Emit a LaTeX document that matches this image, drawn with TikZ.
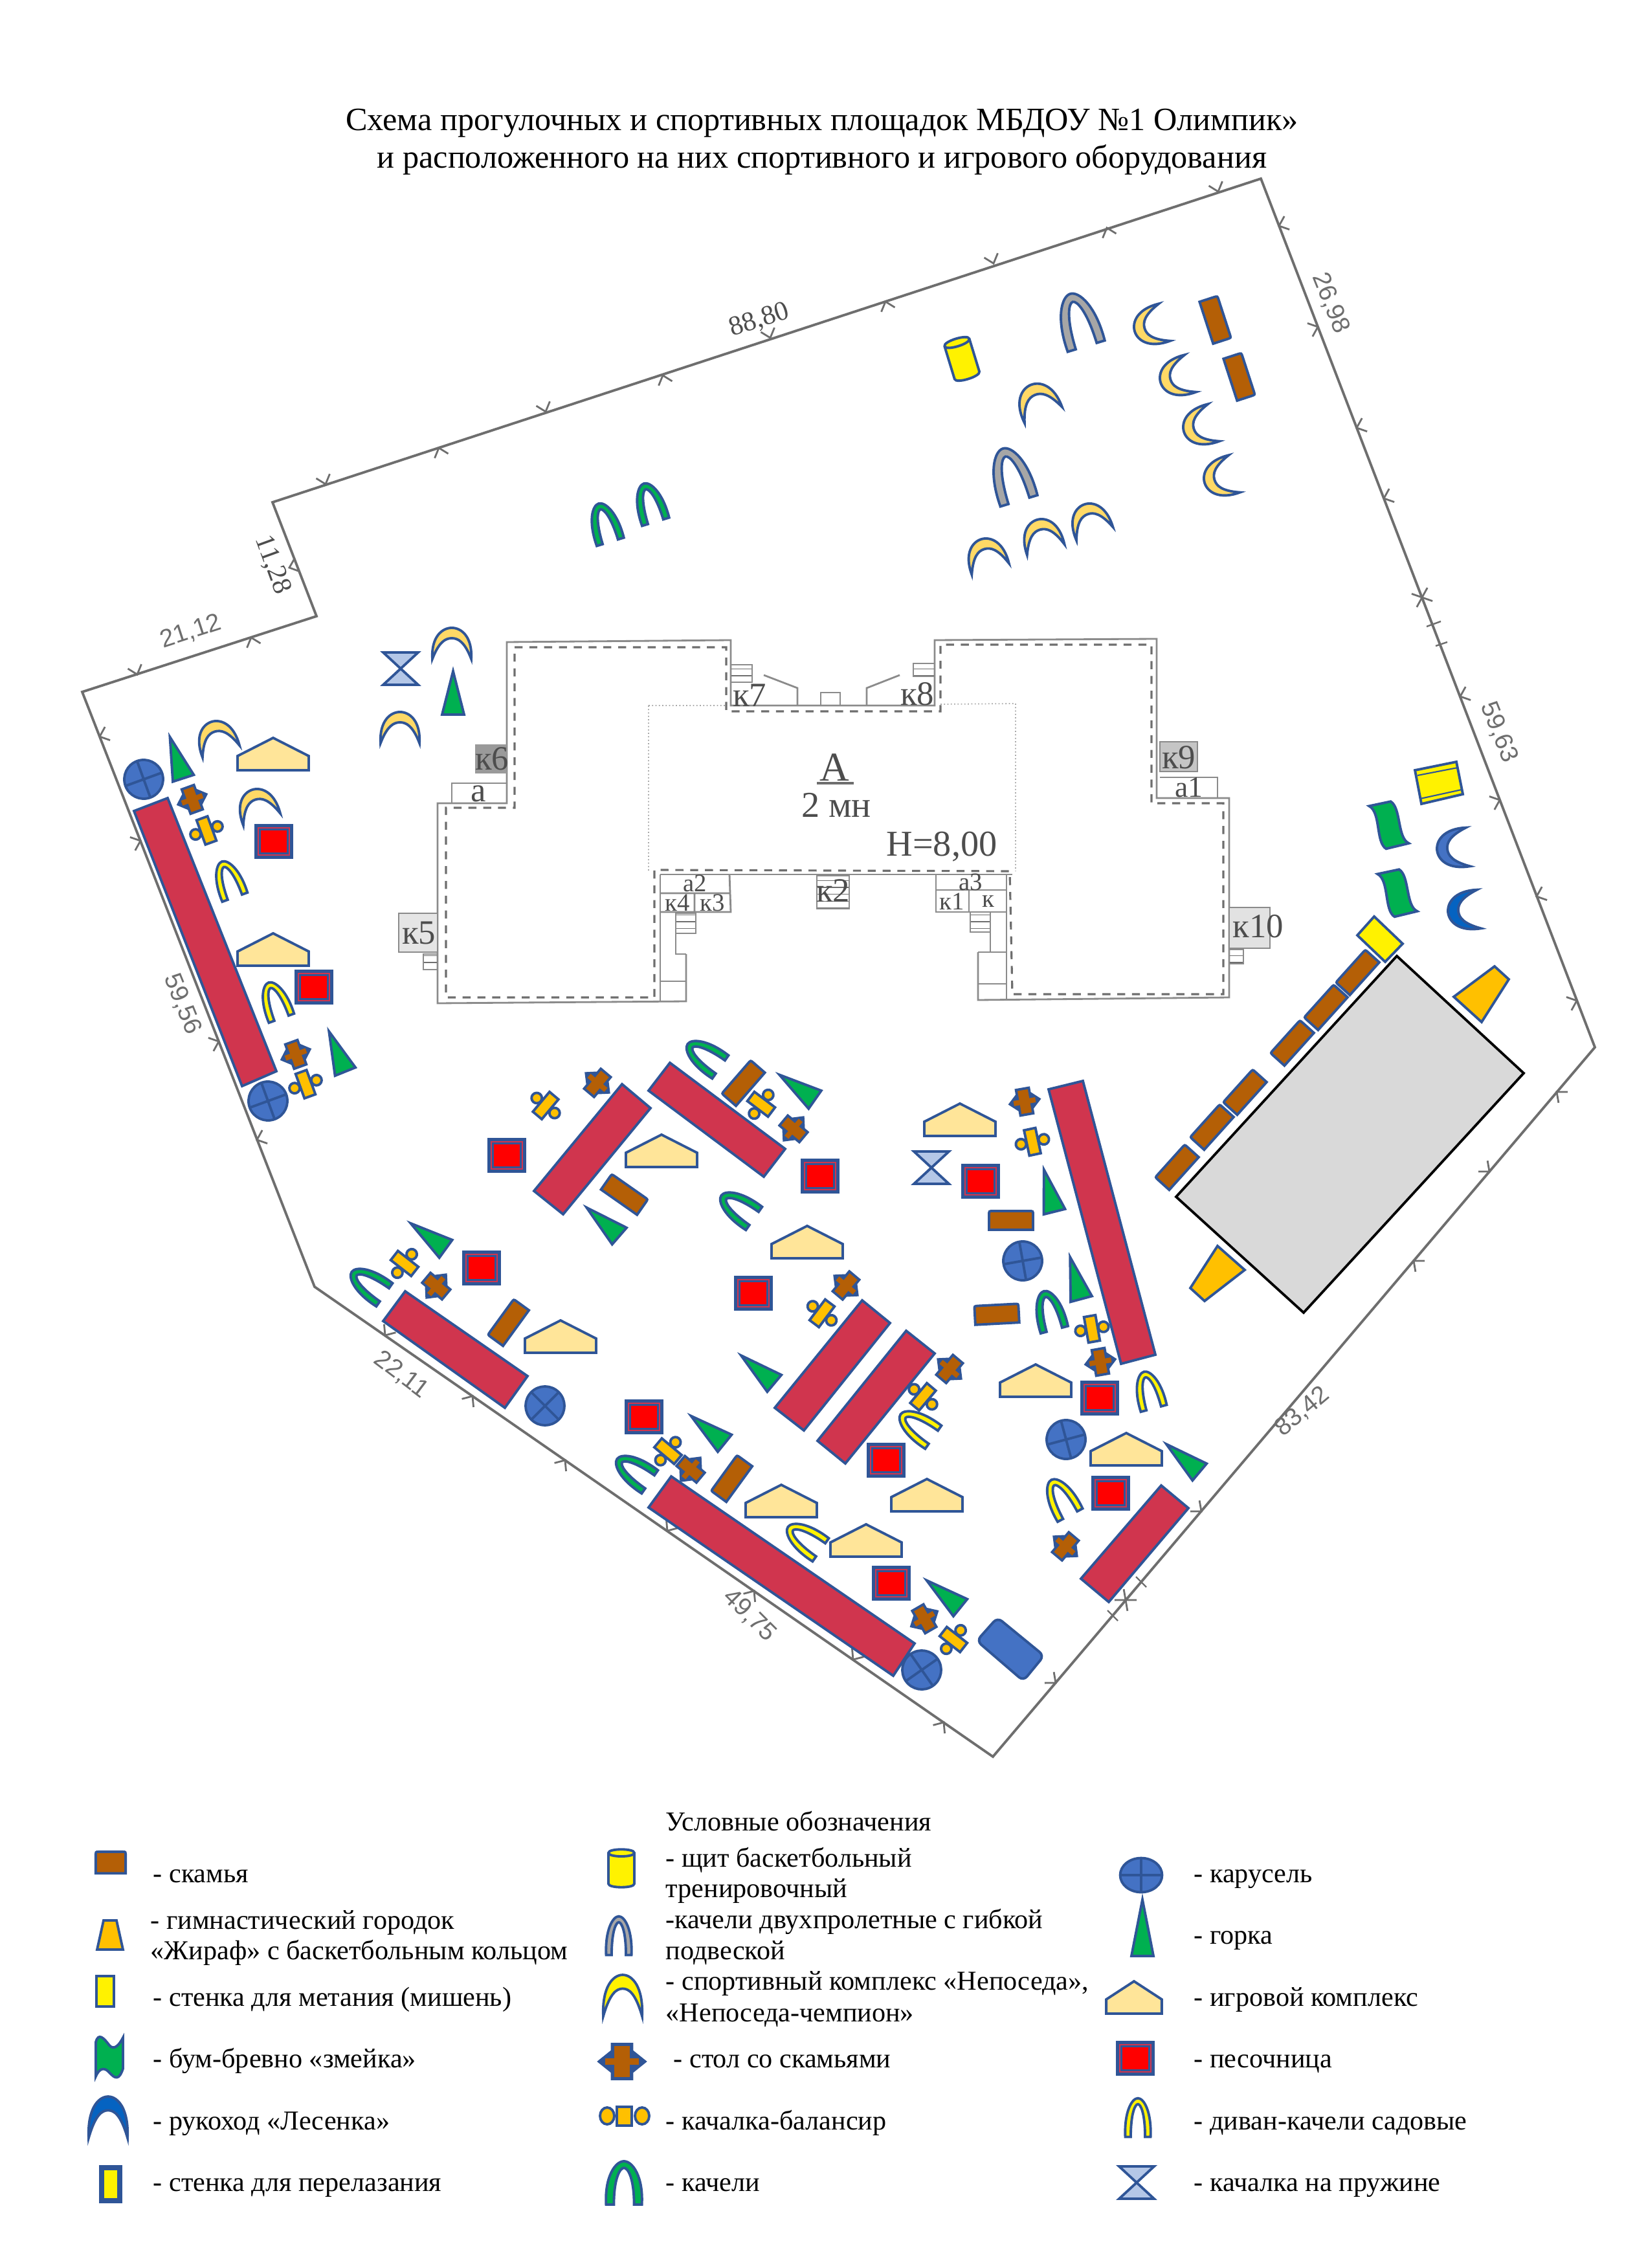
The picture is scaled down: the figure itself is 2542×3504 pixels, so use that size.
\documentclass[tikz,border=0pt]{standalone}
\usepackage{fontspec}
\setmainfont{Liberation Serif}
\newfontfamily\dimfont{Liberation Sans}
\usepackage{xcolor}
\usetikzlibrary{patterns}
\definecolor{icoblue}{HTML}{2F5597}
\definecolor{benchbrown}{HTML}{B45F06}
\definecolor{crimson}{HTML}{D0354E}
\definecolor{housecream}{HTML}{FFE599}
\definecolor{moongold}{HTML}{FFD966}
\definecolor{slidegreen}{HTML}{00B050}
\definecolor{wheelblue}{HTML}{4472C4}
\definecolor{deepblue}{HTML}{0563C1}
\definecolor{giraffe}{HTML}{FFC000}
\definecolor{springblue}{HTML}{B4C7E7}
\definecolor{swinggrey}{HTML}{A6A6A6}
\definecolor{planline}{HTML}{6E6E6E}
\begin{document}
\begin{tikzpicture}[x=0.01cm,y=-0.01cm,
            ico/.style = {draw=icoblue, line width=1.1pt},
            bound/.style = {draw=planline, line width=1.1pt, line join=miter},
            wall/.style = {draw=planline!80, line width=.8pt},
            thinwall/.style = {draw=planline!60, line width=.5pt, densely dotted},
            dashwall/.style = {draw=planline, line width=.9pt, dash pattern=on 3.5pt off 3pt},
            stair/.style = {pattern=horizontal lines, pattern color=planline},
            planlab/.style = {text=planline!70!black, inner sep=0pt, font=\fontsize{15}{17}\selectfont},
            smalllab/.style = {planlab, font=\fontsize{11}{13}\selectfont},
            dimlab/.style = {text=planline, inner sep=0pt, font=\dimfont\fontsize{11}{13}\selectfont},
            dimser/.style = {text=planline!70!black, inner sep=0pt, font=\fontsize{12}{14}\selectfont},
            legtext/.style = {anchor=base west, inner sep=0pt, yshift=-.8pt, font=\fontsize{12}{14}\selectfont},
            titletext/.style = {inner sep=0pt, font=\fontsize{14.3}{17}\selectfont},
            pics/tick/.style = {code={\draw[draw=planline, line width=.8pt] (-11,13) -- (0,0) -- (11,13);}},
            pics/sandpit/.style = {code={
                \filldraw[ico,fill=icoblue] (-28,-25) rectangle (28,25);
                \draw[crimson,line width=.6pt] (-24,-21) rectangle (24,21);
                \fill[red] (-20,-17) rectangle (20,17);}},
            pics/house/.style = {code={
                \filldraw[ico,fill=housecream] (-55,25) -- (-55,3) -- (0,-25) -- (55,3) -- (55,25) -- cycle;}},
            pics/crescent/.style = {code={
                \filldraw[ico,fill=#1] (-30,24) .. controls (-32,-10) and (-15,-24) .. (0,-24)
                    .. controls (15,-24) and (32,-10) .. (30,24)
                    .. controls (20,-2) and (10,-8) .. (0,-8)
                    .. controls (-10,-8) and (-20,-2) .. (-30,24) -- cycle;}},
            pics/slide/.style = {code={
                \filldraw[ico,fill=slidegreen] (0,-34) -- (17,33) -- (-17,33) -- cycle;}},
            pics/carousel/.style = {code={
                \filldraw[ico,fill=wheelblue] (0,0) circle (30);
                \draw[ico] (-30,0) -- (30,0) (0,-30) -- (0,30);}},
            pics/swing/.style = {code={
                \filldraw[ico,fill=#1] (-23,32) .. controls (-25,-10) and (-11,-33) .. (0,-33)
                    .. controls (11,-33) and (25,-10) .. (23,32) -- (13,32)
                    .. controls (13,-8) and (5,-23) .. (0,-23)
                    .. controls (-5,-23) and (-13,-8) .. (-13,32) -- cycle;}},
            pics/bench/.style = {code={
                \filldraw[ico,fill=benchbrown] (-34,15) -- (-34,-8) .. controls (-34,-14) .. (-28,-14)
                    -- (28,-14) .. controls (34,-14) .. (34,-8) -- (34,15) -- cycle;}},
            pics/tableset/.style = {code={
                \filldraw[ico,fill=icoblue] (-23,0) -- (-10,-12) -- (-10,-20) -- (10,-20) -- (10,-12) -- (23,0)
                    -- (10,12) -- (10,20) -- (-10,20) -- (-10,12) -- cycle;
                \fill[benchbrown] (-8,-18) rectangle (8,18);
                \fill[benchbrown] (-17,-4) rectangle (17,4);}},
            pics/balancer/.style = {code={
                \filldraw[ico,fill=giraffe] (-18,0) circle (8);
                \filldraw[ico,fill=giraffe] (18,0) circle (8);
                \filldraw[ico,fill=giraffe] (-9,-20) rectangle (9,20);}},
            pics/springrock/.style = {code={
                \filldraw[ico,fill=springblue] (-27,-25) -- (27,-25) -- (-27,25) -- (27,25) -- cycle;}},
            pics/snake/.style = {code={
                \filldraw[ico,fill=slidegreen] (-22,-35) -- (12,-35) .. controls (26,-22) and (10,22) .. (26,34)
                    -- (-10,35) .. controls (-24,22) and (-6,-22) .. (-22,-35) -- cycle;}},
            pics/backboard/.style = {code={
                \filldraw[ico,fill=yellow] (-20,-26) -- (-20,27) .. controls (-20,35) and (20,35) .. (20,27)
                    -- (20,-26) .. controls (20,-34) and (-20,-34) .. (-20,-26) -- cycle;
                \draw[ico] (-20,-26) .. controls (-20,-18) and (20,-18) .. (20,-26);}}]

        \useasboundingbox (0,0) rectangle (2542,3504);

        % Title
        \node[titletext] (titleA) at (1270,190) {Схема прогулочных и спортивных площадок МБДОУ №1 Олимпик»};
        \node[titletext] (titleB) at (1270,247) {и расположенного на них спортивного и игрового оборудования};

        % Site boundary
        \draw[bound] (127,1069) -- (489,952) -- (421,776) -- (1948,276) -- (2464,1618) -- (1534,2714) -- (486,1988) -- cycle;

        % Boundary ticks
        \pic[rotate=111] at (154,1138) {tick};
        \pic[rotate=-69] at (217,1299) {tick};
        \pic[rotate=-69] at (338,1609) {tick};
        \pic[rotate=111] at (397,1761) {tick};
        \pic[rotate=198] at (212,1042) {tick};
        \pic[rotate=18] at (388,985) {tick};
        \pic[rotate=110] at (447,877) {tick};
        \pic[rotate=198] at (503,748) {tick};
        \pic[rotate=18] at (678,692) {tick};
        \pic[rotate=198] at (843,636) {tick};
        \pic[rotate=18] at (1024,580) {tick};
        \pic[rotate=198] at (1190,522) {tick};
        \pic[rotate=18] at (1368,466) {tick};
        \pic[rotate=198] at (1535,407) {tick};
        \pic[rotate=18] at (1710,352) {tick};
        \pic[rotate=198] at (1882,296) {tick};
        \pic[rotate=111] at (1976,349) {tick};
        \pic[rotate=-69] at (2036,505) {tick};
        \pic[rotate=111] at (2096,661) {tick};
        \pic[rotate=111] at (2138,770) {tick};
        \pic[rotate=111] at (2197,923) {tick};
        \pic[rotate=-69] at (2197,923) {tick};
        \pic[rotate=111] at (2256,1076) {tick};
        \pic[rotate=-69] at (2317,1236) {tick};
        \pic[rotate=111] at (2374,1385) {tick};
        \pic[rotate=-69] at (2436,1546) {tick};
        \pic[rotate=50] at (2405,1687) {tick};
        \pic[rotate=230] at (2301,1810) {tick};
        \pic[rotate=50] at (2184,1948) {tick};
        \pic[rotate=230] at (1856,2335) {tick};
        \pic[rotate=230] at (1739,2472) {tick};
        \pic[rotate=50] at (1739,2472) {tick};
        \pic[rotate=230] at (1631,2600) {tick};
        \pic[rotate=-35] at (1458,2661) {tick};
        \pic[rotate=145] at (1318,2564) {tick};
        \pic[rotate=-35] at (1165,2458) {tick};
        \pic[rotate=145] at (1031,2365) {tick};
        \pic[rotate=-35] at (873,2256) {tick};
        \pic[rotate=-35] at (730,2157) {tick};
        \pic[rotate=145] at (595,2063) {tick};
        \draw[draw=planline,line width=.7pt] (2204,968) -- (2226,960) (2218,998) -- (2236,992);
        \draw[draw=planline,line width=.7pt] (1755,2436) -- (1771,2452) (1711,2488) -- (1727,2504);

        % Boundary lengths
        \node[dimlab,rotate=18] (len2112) at (295,976) {21,12};
        \node[dimser,rotate=-70] (len1128) at (421,873) {11,28};
        \node[dimser,rotate=18] (len8880) at (1173,495) {88,80};
        \node[dimlab,rotate=-68] (len2698) at (2056,468) {26,98};
        \node[dimlab,rotate=-68] (len5963) at (2316,1131) {59,63};
        \node[dimlab,rotate=40] (len8342) at (2012,2181) {83,42};
        \node[dimlab,rotate=-45] (len4975) at (1158,2496) {49,75};
        \node[dimlab,rotate=-37] (len2211) at (620,2124) {22,11};
        \node[dimlab,rotate=-68] (len5956) at (282,1551) {59,56};

        % Building
        \draw[wall] (1060,1474) -- (1060,1547) -- (676,1550) -- (676,1241) -- (783,1241) -- (783,992)
            -- (1129,989) -- (1129,1090) -- (1444,1090) -- (1444,989) -- (1787,987) -- (1787,1233)
            -- (1899,1233) -- (1899,1541) -- (1511,1545) -- (1511,1471);
        \draw[dashwall] (795,1000) -- (1122,1000) -- (1122,1099) -- (1453,1099) -- (1453,996) -- (1779,996)
            -- (1779,1241) -- (1890,1241) -- (1890,1536) -- (1564,1536) -- (1560,1346) -- (1011,1344)
            -- (1011,1541) -- (689,1541) -- (689,1248) -- (795,1248) -- cycle;
        \draw[thinwall] (1002,1090) -- (1002,1346) (1569,1087) -- (1569,1346) (1002,1090) -- (1122,1090) (1453,1088) -- (1569,1087);
        \draw[wall] (1020,1351) -- (1564,1351);
        \draw[wall] (1020,1351) -- (1020,1547) (1020,1516) -- (1060,1516) (1044,1442) -- (1044,1474) -- (1060,1474);
        \draw[wall] (1555,1351) -- (1555,1545) (1511,1520) -- (1555,1520) (1511,1471) -- (1555,1471) (1530,1440) -- (1530,1471);

        % Entrances
        \fill[planline!70] (734,1150) rectangle (783,1195);
        \draw[wall] (698,1241) -- (698,1210) -- (783,1210);
        \filldraw[wall,fill=planline!18] (616,1411) rectangle (676,1471);
        \filldraw[wall,stair] (654,1474) rectangle (676,1498);
        \filldraw[wall,fill=planline!40] (1792,1146) rectangle (1850,1192);
        \draw[wall] (1792,1201) -- (1881,1201) -- (1881,1233);
        \filldraw[wall,fill=planline!20] (1899,1402) rectangle (1962,1465);
        \filldraw[wall,stair] (1899,1467) rectangle (1921,1489);
        \draw[wall] (1127,1351) -- (1129,1409) -- (1020,1409) (1020,1380) -- (1129,1380) (1073,1380) -- (1073,1409);
        \draw[wall] (1446,1351) -- (1446,1409) -- (1555,1409) (1446,1375) -- (1555,1375) (1497,1375) -- (1497,1409);
        \filldraw[wall,stair] (1262,1353) rectangle (1312,1404);
        \filldraw[wall,stair] (1044,1411) rectangle (1075,1442);
        \filldraw[wall,stair] (1499,1409) rectangle (1530,1440);
        \filldraw[wall,stair] (1129,1027) rectangle (1162,1054);
        \filldraw[wall,stair] (1411,1025) rectangle (1444,1045);
        \draw[wall] (1180,1043) -- (1232,1063) -- (1232,1090);
        \draw[wall] (1339,1090) -- (1339,1063) -- (1390,1043);
        \draw[wall] (1268,1090) -- (1268,1070) -- (1298,1070) -- (1298,1090);
        \draw[draw=planline,line width=1pt] (1262,1210) -- (1319,1210);

        % Building labels
        \node[planlab] (k6) at (760,1172) {к6};
        \node[planlab] (a0) at (739,1226) {а};
        \node[planlab] (k5) at (647,1441) {к5};
        \node[planlab] (k7) at (1158,1074) {к7};
        \node[planlab] (k8) at (1417,1072) {к8};
        \node[planlab] (k9) at (1821,1170) {к9};
        \node[planlab,font=\fontsize{13}{15}\selectfont] (a1) at (1837,1217) {а1};
        \node[planlab] (k10) at (1944,1431) {к10};
        \node[smalllab] (a2) at (1074,1365) {а2};
        \node[smalllab] (k4) at (1047,1395) {к4};
        \node[smalllab] (k3) at (1101,1395) {к3};
        \node[planlab] (k2) at (1287,1376) {к2};
        \node[smalllab] (a3) at (1500,1363) {а3};
        \node[smalllab] (k1) at (1471,1393) {к1};
        \node[smalllab] (k0) at (1527,1393) {к};
        \node[planlab,font=\fontsize{18}{20}\selectfont] (blockA) at (1289,1186) {А};
        \node[planlab,font=\fontsize{16}{18}\selectfont] (blockB) at (1292,1244) {2 мн};
        \node[planlab,font=\fontsize{16}{18}\selectfont] (height) at (1455,1308) {Н=8,00};

        % Sports ground
        \filldraw[fill=black!15,draw=black,line width=1.1pt] (2158,1477) -- (2354,1658) -- (2014,2028) -- (1817,1849) -- cycle;

        % Long red tracks
        \filldraw[ico,fill=crimson] (207,1253) -- (259,1233) -- (427,1655) -- (374,1678) -- cycle;
        \filldraw[ico,fill=crimson] (961,1675) -- (1005,1712) -- (870,1876) -- (825,1840) -- cycle;
        \filldraw[ico,fill=crimson] (1035,1642) -- (1213,1775) -- (1180,1818) -- (1002,1685) -- cycle;
        \filldraw[ico,fill=crimson] (626,1995) -- (815,2126) -- (780,2175) -- (592,2041) -- cycle;
        \filldraw[ico,fill=crimson] (1037,2281) -- (1413,2539) -- (1380,2589) -- (1002,2329) -- cycle;
        \filldraw[ico,fill=crimson] (1332,2009) -- (1375,2044) -- (1242,2210) -- (1197,2175) -- cycle;
        \filldraw[ico,fill=crimson] (1400,2056) -- (1444,2091) -- (1306,2261) -- (1263,2226) -- cycle;
        \filldraw[ico,fill=crimson] (1620,1683) -- (1673,1670) -- (1785,2093) -- (1732,2107) -- cycle;
        \filldraw[ico,fill=crimson] (1794,2295) -- (1836,2330) -- (1713,2475) -- (1670,2439) -- cycle;

        % Blue pad
        \filldraw[ico,fill=wheelblue,rounded corners=2.5pt] (1541,2499) -- (1613,2558) -- (1581,2597) -- (1509,2535) -- cycle;

        % Sandpits
        \pic at (423,1300) {sandpit};
        \pic at (485,1525) {sandpit};
        \pic at (783,1785) {sandpit};
        \pic at (1267,1817) {sandpit};
        \pic at (744,1959) {sandpit};
        \pic at (1164,1998) {sandpit};
        \pic at (995,2189) {sandpit};
        \pic at (1369,2256) {sandpit};
        \pic at (1515,1825) {sandpit};
        \pic at (1699,2160) {sandpit};
        \pic at (1716,2307) {sandpit};
        \pic at (1377,2446) {sandpit};

        % Play houses
        \pic at (422,1165) {house};
        \pic at (422,1467) {house};
        \pic at (1022,1778) {house};
        \pic at (1247,1919) {house};
        \pic at (866,2065) {house};
        \pic at (1207,2319) {house};
        \pic at (1338,2380) {house};
        \pic at (1483,1730) {house};
        \pic at (1600,2133) {house};
        \pic at (1740,2239) {house};
        \pic at (1432,2310) {house};

        % Crescents
        \pic[rotate=23,scale=1.05] at (1602,618) {crescent=moongold};
        \pic[rotate=17] at (1523,856) {crescent=moongold};
        \pic[rotate=16] at (1609,826) {crescent=moongold};
        \pic[rotate=20] at (1683,802) {crescent=moongold};
        \pic[rotate=107] at (1776,505) {crescent=moongold};
        \pic[rotate=107] at (1816,584) {crescent=moongold};
        \pic[rotate=107] at (1852,660) {crescent=moongold};
        \pic[rotate=107] at (1884,739) {crescent=moongold};
        \pic at (698,994) {crescent=moongold};
        \pic at (618,1124) {crescent=moongold};
        \pic[rotate=18] at (334,1138) {crescent=moongold};
        \pic[rotate=18] at (397,1243) {crescent=moongold};
        \pic[rotate=96] at (2244,1311) {crescent=wheelblue};
        \pic[rotate=96] at (2261,1407) {crescent=deepblue};

        % Slides
        \pic at (700,1071) {slide};
        \pic[rotate=18] at (273,1171) {slide};
        \pic[rotate=22] at (521,1625) {slide};
        \pic[rotate=54] at (662,1910) {slide};
        \pic[rotate=49] at (932,1888) {slide};
        \pic[rotate=55] at (1232,1680) {slide};
        \pic[rotate=50] at (1171,2116) {slide};
        \pic[rotate=51] at (1094,2209) {slide};
        \pic[rotate=14] at (1621,1840) {slide};
        \pic[rotate=15] at (1662,1975) {slide};
        \pic[rotate=50] at (1828,2253) {slide};
        \pic[rotate=51] at (1458,2463) {slide};

        % Carousels
        \pic[rotate=20] at (222,1204) {carousel};
        \pic[rotate=20] at (414,1701) {carousel};
        \pic[rotate=45] at (842,2172) {carousel};
        \pic[rotate=10] at (1580,1948) {carousel};
        \pic[rotate=15] at (1647,2224) {carousel};
        \pic[rotate=35] at (1424,2580) {carousel};

        % Tables
        \pic[rotate=20] at (297,1235) {tableset};
        \pic[rotate=20] at (457,1629) {tableset};
        \pic[rotate=-40] at (923,1673) {tableset};
        \pic[rotate=50] at (1226,1744) {tableset};
        \pic[rotate=50] at (674,1987) {tableset};
        \pic[rotate=-40] at (1307,1986) {tableset};
        \pic[rotate=-40] at (1467,2115) {tableset};
        \pic[rotate=50] at (1067,2270) {tableset};
        \pic[rotate=30] at (1428,2501) {tableset};
        \pic[rotate=10] at (1583,1702) {tableset};
        \pic[rotate=10] at (1700,2104) {tableset};
        \pic[rotate=-40] at (1646,2389) {tableset};

        % Balancers
        \pic[rotate=20] at (319,1283) {balancer};
        \pic[rotate=20] at (472,1675) {balancer};
        \pic[rotate=-40] at (843,1708) {balancer};
        \pic[rotate=53] at (1176,1706) {balancer};
        \pic[rotate=52] at (625,1952) {balancer};
        \pic[rotate=-37] at (1270,2029) {balancer};
        \pic[rotate=50] at (1032,2242) {balancer};
        \pic[rotate=52] at (1473,2533) {balancer};
        \pic[rotate=12] at (1595,1764) {balancer};
        \pic[rotate=10] at (1687,2053) {balancer};
        \pic[rotate=-40] at (1426,2158) {balancer};

        % Swings
        \pic[rotate=17,scale=1.3] at (1666,495) {swing=swinggrey};
        \pic[rotate=17,scale=1.3] at (1562,734) {swing=swinggrey};
        \pic[rotate=17,scale=.95] at (934,808) {swing=slidegreen};
        \pic[rotate=17,scale=.95] at (1004,777) {swing=slidegreen};
        \pic[rotate=20,scale=.9] at (353,1359) {swing=yellow};
        \pic[rotate=20,scale=.9] at (425,1546) {swing=yellow};
        \pic[rotate=55,scale=.95] at (1088,1631) {swing=slidegreen};
        \pic[rotate=55,scale=.95] at (1140,1865) {swing=slidegreen};
        \pic[rotate=55,scale=.95] at (569,1983) {swing=slidegreen};
        \pic[rotate=55,scale=.95] at (979,2272) {swing=slidegreen};
        \pic[rotate=55,scale=.95] at (1243,2377) {swing=yellow};
        \pic[rotate=15,scale=.95] at (1621,2025) {swing=slidegreen};
        \pic[rotate=15,scale=.9] at (1775,2148) {swing=yellow};
        \pic[rotate=55,scale=.95] at (1417,2203) {swing=yellow};
        \pic[rotate=28,scale=.95] at (1639,2314) {swing=yellow};

        % Benches
        \pic[rotate=-72] at (1878,494) {bench};
        \pic[rotate=-72] at (1915,582) {bench};
        \pic[rotate=49] at (1148,1673) {bench};
        \pic[rotate=-35] at (965,1845) {bench};
        \pic[rotate=54] at (785,2043) {bench};
        \pic[rotate=54] at (1130,2284) {bench};
        \pic at (1562,1885) {bench};
        \pic[rotate=3] at (1540,2030) {bench};
        \pic[rotate=48] at (1818,1803) {bench};
        \pic[rotate=48] at (1872,1741) {bench};
        \pic[rotate=48] at (1923,1687) {bench};
        \pic[rotate=48] at (1996,1611) {bench};
        \pic[rotate=48] at (2048,1556) {bench};
        \pic[rotate=48] at (2097,1502) {bench};

        % Spring rockers
        \pic at (619,1033) {springrock};
        \pic at (1439,1804) {springrock};

        % Walls, beams, giraffes, backboard
        \filldraw[ico,fill=yellow] (2186,1190) -- (2250,1177) -- (2260,1227) -- (2196,1242) -- cycle;
        \draw[draw=icoblue,line width=.6pt] (2190,1198) -- (2252,1186) (2194,1234) -- (2258,1220);
        \filldraw[ico,fill=yellow] (2123,1416) -- (2167,1458) -- (2140,1486) -- (2097,1445) -- cycle;
        \pic[rotate=12] at (2144,1275) {snake};
        \pic[rotate=12] at (2157,1380) {snake};
        \filldraw[ico,fill=giraffe] (2246,1540) -- (2309,1493) -- (2331,1513) -- (2289,1579) -- cycle;
        \filldraw[ico,fill=giraffe] (1881,1925) -- (1923,1962) -- (1861,2010) -- (1839,1990) -- cycle;
        \pic[rotate=17] at (1486,554) {backboard};

        % Legend title
        \node[legtext] (lgTitle) at (1028,2826) {Условные обозначения};

        % Legend, left column
        \pic[xscale=.68,yscale=1.15] at (171,2877) {bench};
        \node[legtext] (lgBench) at (236,2906) {- скамья};
        \filldraw[ico,fill=giraffe] (160,2967) -- (180,2967) -- (190,3012) -- (150,3012) -- cycle;
        \node[legtext] (lgGirA) at (232,2978) {- гимнастический городок};
        \node[legtext] (lgGirB) at (232,3025) {«Жираф» с баскетбольным кольцом};
        \filldraw[ico,fill=yellow] (149,3053) rectangle (176,3100);
        \node[legtext] (lgTarget) at (236,3097) {- стенка для метания (мишень)};
        \filldraw[ico,fill=slidegreen] (148,3155) .. controls (152,3140) and (160,3148) .. (169,3160)
            .. controls (176,3168) and (184,3160) .. (190,3148) -- (190,3196)
            .. controls (184,3214) and (178,3212) .. (169,3202) .. controls (162,3194) and (154,3194) .. (148,3208) -- cycle;
        \node[legtext] (lgBeam) at (236,3192) {- бум-бревно «змейка»};
        \pic[yscale=1.33] at (167,3271) {crescent=deepblue};
        \node[legtext] (lgLadder) at (236,3288) {- рукоход «Лесенка»};
        \filldraw[ico,line width=2.2pt,fill=yellow] (157,3349) rectangle (185,3400);
        \node[legtext] (lgClimb) at (236,3383) {- стенка для перелазания};

        % Legend, middle column
        \pic[yscale=.9] at (960,2886) {backboard};
        \node[legtext] (lgBoardA) at (1028,2882) {- щит баскетбольный};
        \node[legtext] (lgBoardB) at (1028,2929) {тренировочный};
        \pic[xscale=.85,yscale=.92] at (956,2991) {swing=swinggrey};
        \node[legtext] (lgFlexA) at (1028,2977) {-качели двухпролетные с гибкой};
        \node[legtext] (lgFlexB) at (1028,3025) {подвеской};
        \pic[yscale=1.33] at (962,3083) {crescent=yellow};
        \node[legtext] (lgSportA) at (1028,3072) {- спортивный комплекс «Непоседа»,};
        \node[legtext] (lgSportB) at (1028,3121) {«Непоседа-чемпион»};
        \pic[xscale=1.55,yscale=1.35] at (961,3185) {tableset};
        \node[legtext] (lgTable) at (1040,3192) {- стол со скамьями};
        \filldraw[ico,fill=giraffe] (938,3269) ellipse (11 and 13);
        \filldraw[ico,fill=giraffe] (992,3269) ellipse (11 and 13);
        \filldraw[ico,fill=giraffe] (953,3255) rectangle (976,3284);
        \node[legtext] (lgBalance) at (1028,3288) {- качалка-балансир};
        \pic[xscale=1.2,yscale=1.03] at (964,3373) {swing=slidegreen};
        \node[legtext] (lgSwing) at (1028,3383) {- качели};

        % Legend, right column
        \pic[xscale=1.08,yscale=.88] at (1763,2897) {carousel};
        \node[legtext] (lgWheel) at (1844,2906) {- карусель};
        \pic[yscale=1.3] at (1765,2979) {slide};
        \node[legtext] (lgSlide) at (1844,3001) {- горка};
        \pic[xscale=.78] at (1752,3086) {house};
        \node[legtext] (lgHouse) at (1844,3097) {- игровой комплекс};
        \pic at (1754,3180) {sandpit};
        \node[legtext] (lgSand) at (1844,3192) {- песочница};
        \pic[xscale=.85,yscale=.92] at (1758,3272) {swing=yellow};
        \node[legtext] (lgSofa) at (1844,3288) {- диван-качели садовые};
        \pic at (1756,3372) {springrock};
        \node[legtext] (lgRock) at (1844,3383) {- качалка на пружине};

\end{tikzpicture}
\end{document}
